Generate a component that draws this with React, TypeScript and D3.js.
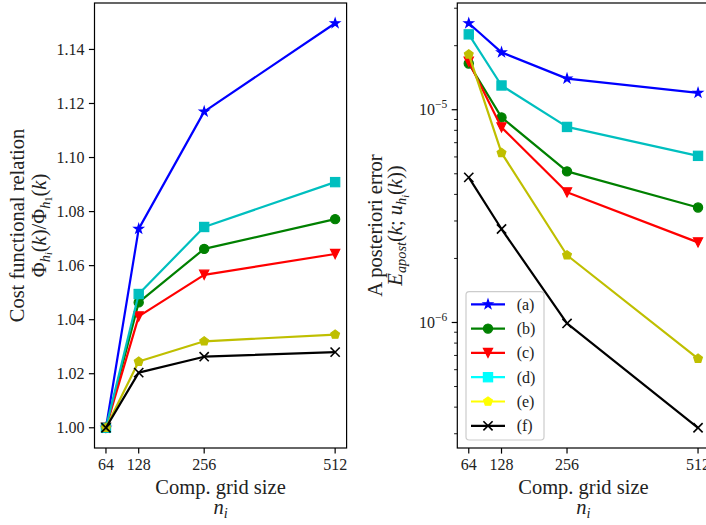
import React from 'react';
import * as d3 from 'd3';

// ---------- data ----------
const gridSizes = [64, 128, 256, 512];
const xTickLabels = ['64', '128', '256', '512'];
const seriesLabels = ['(a)', '(b)', '(c)', '(d)', '(e)', '(f)'];

const costA = [1.0, 1.0736, 1.117, 1.1497];
const costB = [1.0, 1.0464, 1.0662, 1.0772];
const costC = [1.0, 1.0412, 1.0566, 1.0643];
const costD = [1.0, 1.0495, 1.0743, 1.0909];
const costE = [1.0, 1.0245, 1.032, 1.0345];
const costF = [1.0, 1.0204, 1.0263, 1.028];

const errA = [2.55e-5, 1.86e-5, 1.4e-5, 1.2e-5];
const errB = [1.65e-5, 9.2e-6, 5.13e-6, 3.47e-6];
const errC = [1.68e-5, 8.26e-6, 4.09e-6, 2.38e-6];
const errD = [2.26e-5, 1.3e-5, 8.3e-6, 6.07e-6];
const errE = [1.82e-5, 6.27e-6, 2.07e-6, 6.76e-7];
const errF = [4.81e-6, 2.75e-6, 9.9e-7, 3.2e-7];

const costTicks = [1.0, 1.02, 1.04, 1.06, 1.08, 1.1, 1.12, 1.14];
const costTickLabels = ['1.00', '1.02', '1.04', '1.06', '1.08', '1.10', '1.12', '1.14'];
const errMajorTicks = [1e-6, 1e-5];
const errMajorExponents = ['\u22126', '\u22125'];

const costSeries = [costA, costB, costC, costD, costE, costF];
const errSeries = [errA, errB, errC, errD, errE, errF];

const lineColors = ['#0000ff', '#008000', '#ff0000', '#00bfbf', '#bfbf00', '#000000'];
const legendColors = ['#0000ff', '#008000', '#ff0000', '#00ffff', '#ffff00', '#000000'];
const markerKinds = ['star', 'circle', 'tri', 'square', 'pentagon', 'x'];

// ---------- layout ----------
const W = 706;
const H = 525;
const TOP = 3;
const BOTTOM = 448;
const LEFT_X0 = 94.5;
const LEFT_X1 = 346.6;
const RIGHT_X0 = 457.3;
const RIGHT_X1 = 709.5;
const FONT = '"Liberation Serif", "Times New Roman", serif';
const TICK_FS = 16;
const LABEL_FS = 20.5;
const R = 4.6;
const EDGE = 1.2;
const LW = 2.2;

function padLin(vals: number[]): [number, number] {
  const lo = Math.min(...vals);
  const hi = Math.max(...vals);
  const m = (hi - lo) * 0.05;
  return [lo - m, hi + m];
}
function padLog(vals: number[]): [number, number] {
  const lo = Math.log10(Math.min(...vals));
  const hi = Math.log10(Math.max(...vals));
  const m = (hi - lo) * 0.05;
  return [Math.pow(10, lo - m), Math.pow(10, hi + m)];
}

function polyPts(n: number, rOuter: number, rInner: number | null): string {
  const pts: string[] = [];
  const count = rInner === null ? n : n * 2;
  for (let i = 0; i < count; i++) {
    const r = rInner === null ? rOuter : i % 2 === 0 ? rOuter : rInner;
    const a = -Math.PI / 2 + (i * 2 * Math.PI) / count;
    pts.push(`${(r * Math.cos(a)).toFixed(3)},${(r * Math.sin(a)).toFixed(3)}`);
  }
  return pts.join(' ');
}

function Marker({ kind, x, y, color }: { kind: string; x: number; y: number; color: string }) {
  const t = `translate(${x},${y})`;
  const common = { fill: color, stroke: color, strokeWidth: EDGE, strokeLinejoin: 'miter' as const };
  if (kind === 'circle') return <circle cx={x} cy={y} r={R} {...common} />;
  if (kind === 'square') return <rect x={x - R} y={y - R} width={2 * R} height={2 * R} {...common} />;
  if (kind === 'tri')
    return <polygon transform={t} points={`0,${R} ${-R},${-R} ${R},${-R}`} {...common} />;
  if (kind === 'star') return <polygon transform={t} points={polyPts(5, R * 1.05, R * 1.05 * 0.381966)} {...common} />;
  if (kind === 'pentagon') return <polygon transform={t} points={polyPts(5, R, null)} {...common} />;
  // x
  return (
    <g transform={t} stroke={color} strokeWidth={1.6} fill="none">
      <line x1={-R} y1={-R} x2={R} y2={R} />
      <line x1={-R} y1={R} x2={R} y2={-R} />
    </g>
  );
}

type Seg = { t: string; fs: number; off: number; it?: boolean };
function MathText({ segs, ...rest }: { segs: Seg[]; [k: string]: any }) {
  let cur = 0;
  return (
    <text {...rest} fontFamily={FONT}>
      {segs.map((s, i) => {
        const dy = s.off - cur;
        cur = s.off;
        return (
          <tspan key={i} dy={dy} fontSize={s.fs} fontStyle={s.it ? 'italic' : 'normal'}>
            {s.t}
          </tspan>
        );
      })}
    </text>
  );
}

const SUB = LABEL_FS * 0.7;
const SUBSUB = LABEL_FS * 0.5;

const costLabel2: Seg[] = [
  { t: '\u03A6', fs: LABEL_FS, off: 0 },
  { t: 'h', fs: SUB, off: 4, it: true },
  { t: 'i', fs: SUBSUB, off: 6.5, it: true },
  { t: '(', fs: LABEL_FS, off: 0 },
  { t: 'k', fs: LABEL_FS, off: 0, it: true },
  { t: ')/\u03A6', fs: LABEL_FS, off: 0 },
  { t: 'h', fs: SUB, off: 4, it: true },
  { t: '1', fs: SUBSUB, off: 6.5 },
  { t: '(', fs: LABEL_FS, off: 0 },
  { t: 'k', fs: LABEL_FS, off: 0, it: true },
  { t: ')', fs: LABEL_FS, off: 0 },
];

const errLabel2: Seg[] = [
  { t: 'E', fs: LABEL_FS, off: 0, it: true },
  { t: 'apost', fs: SUB, off: 4, it: true },
  { t: '(', fs: LABEL_FS, off: 0 },
  { t: 'k', fs: LABEL_FS, off: 0, it: true },
  { t: '; ', fs: LABEL_FS, off: 0 },
  { t: 'u', fs: LABEL_FS, off: 0, it: true },
  { t: 'h', fs: SUB, off: 4, it: true },
  { t: 'i', fs: SUBSUB, off: 6.5, it: true },
  { t: '(', fs: LABEL_FS, off: 0 },
  { t: 'k', fs: LABEL_FS, off: 0, it: true },
  { t: '))', fs: LABEL_FS, off: 0 },
];

const nLabel: Seg[] = [
  { t: 'n', fs: LABEL_FS, off: 0, it: true },
  { t: 'i', fs: SUB, off: 4, it: true },
];

function XAxis({ x, cx }: { x: d3.ScaleLinear<number, number>; cx: number }) {
  return (
    <g>
      {gridSizes.map((v, i) => (
        <g key={v}>
          <line x1={x(v)} x2={x(v)} y1={BOTTOM} y2={BOTTOM + 5.6} stroke="#000" strokeWidth={1.2} />
          <text x={x(v)} y={BOTTOM + 21.5} textAnchor="middle" fontFamily={FONT} fontSize={TICK_FS} fill="#222">
            {xTickLabels[i]}
          </text>
        </g>
      ))}
      <text x={cx} y={494} textAnchor="middle" fontFamily={FONT} fontSize={LABEL_FS} fill="#222">
        Comp. grid size
      </text>
      <MathText segs={nLabel} x={cx} y={513.5} textAnchor="middle" fill="#222" />
    </g>
  );
}

function Panel({
  x0,
  x1,
  yScale,
  series,
}: {
  x0: number;
  x1: number;
  yScale: (v: number) => number;
  series: number[][];
}) {
  const x = d3.scaleLinear().domain(padLin(gridSizes)).range([x0, x1]);
  const line = d3
    .line<number>()
    .x((_, i) => x(gridSizes[i]))
    .y((d) => yScale(d));
  return (
    <g>
      {series.map((s, k) => (
        <g key={k}>
          <path d={line(s) || ''} fill="none" stroke={lineColors[k]} strokeWidth={LW} strokeLinejoin="round" />
          {s.map((v, i) => (
            <Marker key={i} kind={markerKinds[k]} x={x(gridSizes[i])} y={yScale(v)} color={lineColors[k]} />
          ))}
        </g>
      ))}
      <rect x={x0} y={TOP} width={x1 - x0} height={BOTTOM - TOP} fill="none" stroke="#000" strokeWidth={1.2} />
      <XAxis x={x} cx={(x0 + x1) / 2} />
    </g>
  );
}

export default function App() {
  const yCost = d3.scaleLinear().domain(padLin(costSeries.flat())).range([BOTTOM, TOP]);
  const errDomain = padLog(errSeries.flat());
  const yErr = d3.scaleLog().domain(errDomain).range([BOTTOM, TOP]);

  const minorTicks: number[] = [];
  for (let e = -8; e <= -3; e++) {
    for (let m = 2; m <= 9; m++) {
      const v = m * Math.pow(10, e);
      if (v >= errDomain[0] && v <= errDomain[1]) minorTicks.push(v);
    }
  }

  const legX = 466;
  const legY = 291.7;
  const legRow = 24.3;

  return (
    <svg
      width={W}
      height={H}
      viewBox={`0 0 ${W} ${H}`}
      style={{ position: 'absolute', left: 0, top: 0, background: '#fff' }}
    >
      <rect x={0} y={0} width={W} height={H} fill="#fff" />

      {/* Left panel */}
      <Panel x0={LEFT_X0} x1={LEFT_X1} yScale={yCost} series={costSeries} />
      {costTicks.map((v, i) => (
        <g key={v}>
          <line x1={LEFT_X0 - 5.6} x2={LEFT_X0} y1={yCost(v)} y2={yCost(v)} stroke="#000" strokeWidth={1.2} />
          <text
            x={LEFT_X0 - 10}
            y={yCost(v) + 5.5}
            textAnchor="end"
            fontFamily={FONT}
            fontSize={TICK_FS}
            fill="#222"
          >
            {costTickLabels[i]}
          </text>
        </g>
      ))}
      <text
        transform={`translate(24,${(TOP + BOTTOM) / 2}) rotate(-90)`}
        textAnchor="middle"
        fontFamily={FONT}
        fontSize={LABEL_FS}
        fill="#222"
      >
        Cost functional relation
      </text>
      <MathText
        segs={costLabel2}
        transform={`translate(45.5,${(TOP + BOTTOM) / 2}) rotate(-90)`}
        textAnchor="middle"
        fill="#222"
      />

      {/* Right panel */}
      <Panel x0={RIGHT_X0} x1={RIGHT_X1} yScale={yErr} series={errSeries} />
      {minorTicks.map((v) => (
        <line
          key={v}
          x1={RIGHT_X0 - 3.2}
          x2={RIGHT_X0}
          y1={yErr(v)}
          y2={yErr(v)}
          stroke="#000"
          strokeWidth={0.9}
        />
      ))}
      {errMajorTicks.map((v, i) => (
        <g key={v}>
          <line x1={RIGHT_X0 - 5.6} x2={RIGHT_X0} y1={yErr(v)} y2={yErr(v)} stroke="#000" strokeWidth={1.2} />
          <text
            x={RIGHT_X0 - 10}
            y={yErr(v) + 5.7}
            textAnchor="end"
            fontFamily={FONT}
            fill="#222"
          >
            <tspan fontSize={TICK_FS}>10</tspan>
            <tspan fontSize={11.5} dy={-7}>
              {errMajorExponents[i]}
            </tspan>
          </text>
        </g>
      ))}
      <text
        transform={`translate(381.5,${(TOP + BOTTOM) / 2}) rotate(-90)`}
        textAnchor="middle"
        fontFamily={FONT}
        fontSize={LABEL_FS}
        fill="#222"
      >
        A posteriori error
      </text>
      <MathText
        segs={errLabel2}
        transform={`translate(402,${(TOP + BOTTOM) / 2}) rotate(-90)`}
        textAnchor="middle"
        fill="#222"
      />

      {/* Legend */}
      <rect
        x={legX}
        y={legY}
        width={78}
        height={148.3}
        rx={3.2}
        fill="#fff"
        fillOpacity={0.8}
        stroke="#cccccc"
        strokeWidth={1.2}
      />
      {seriesLabels.map((lab, k) => {
        const cy = legY + 12.6 + k * legRow;
        return (
          <g key={lab}>
            <line x1={legX + 5} x2={legX + 39} y1={cy} y2={cy} stroke={legendColors[k]} strokeWidth={LW} />
            <Marker kind={markerKinds[k]} x={legX + 22} y={cy} color={legendColors[k]} />
            <text x={legX + 50.7} y={cy + 5.5} fontFamily={FONT} fontSize={TICK_FS} fill="#222">
              {lab}
            </text>
          </g>
        );
      })}
    </svg>
  );
}
